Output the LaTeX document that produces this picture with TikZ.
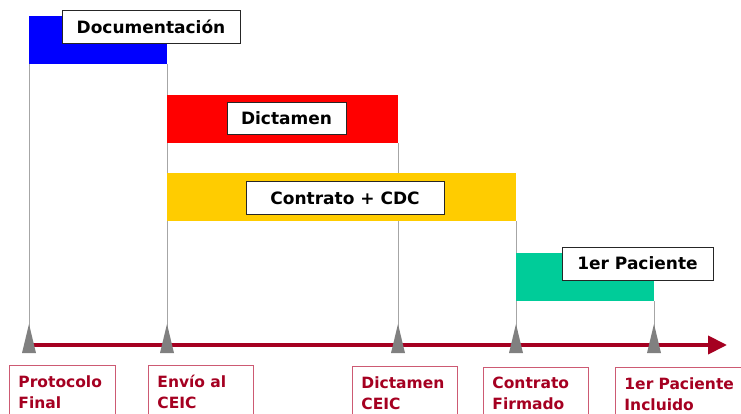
\documentclass[tikz,border=0pt]{standalone}
\usepackage{fontspec}
\setmainfont{DejaVu Sans}
\usetikzlibrary{arrows.meta}

\definecolor{barazul}{RGB}{0,0,255}
\definecolor{barrojo}{RGB}{255,0,0}
\definecolor{baramarillo}{RGB}{255,204,0}
\definecolor{barverde}{RGB}{0,204,153}
\definecolor{granate}{RGB}{165,0,33}
\definecolor{granateclaro}{RGB}{205,90,115}
\definecolor{hitogris}{RGB}{128,128,128}

\tikzset{
  barra/.style={draw=none, inner sep=0pt, outer sep=0pt, anchor=north west},
  etiqueta/.style={draw=black!85, fill=white, line width=0.9pt, inner sep=0pt,
    minimum height=33pt, font=\fontsize{17}{20}\selectfont\bfseries},
  guia/.style={draw=black!35, line width=0.9pt},
  eje/.style={draw=granate, line width=4pt, -{Triangle[length=19pt, width=18pt]}},
  hitolabel/.style={draw=granateclaro, line width=0.9pt, anchor=north west,
    align=left, inner xsep=9pt, inner ysep=10pt,
    text=granate, font=\fontsize{15.5}{21}\selectfont\bfseries}
}

\begin{document}
\begin{tikzpicture}[x=1pt, y=-1pt]
    \useasboundingbox (0,0) rectangle (741,414);

    % --- Hitos sobre el eje ---
    \coordinate (m1) at (29,345);
    \coordinate (m2) at (167,345);
    \coordinate (m3) at (398,345);
    \coordinate (m4) at (516,345);
    \coordinate (m5) at (654,345);
    \coordinate (fin) at (727,345);

    % --- Barras (solo para anclar las guias) ---
    \path (29,16) node[barra, minimum width=138pt, minimum height=48pt] (docbar) {};
    \path (167,95) node[barra, minimum width=231pt, minimum height=48pt] (dicbar) {};
    \path (167,173) node[barra, minimum width=349pt, minimum height=48pt] (conbar) {};
    \path (516,253) node[barra, minimum width=138pt, minimum height=48pt] (pacbar) {};

    % --- Guias verticales ---
    \draw[guia] (docbar.south west) -- (m1);
    \draw[guia] (docbar.south east) -- (m2);
    \draw[guia] (dicbar.south east) -- (m3);
    \draw[guia] (conbar.south east) -- (m4);
    \draw[guia] (pacbar.south east) -- (m5);

    % --- Relleno de las barras ---
    \fill[barazul] (docbar.north west) rectangle (docbar.south east);
    \fill[barrojo] (dicbar.north west) rectangle (dicbar.south east);
    \fill[baramarillo] (conbar.north west) rectangle (conbar.south east);
    \fill[barverde] (pacbar.north west) rectangle (pacbar.south east);

    % --- Rotulos de las barras ---
    \node[etiqueta, minimum width=178pt] (ldoc) at (151,26.5) {Documentación};
    \node[etiqueta, minimum width=119pt, minimum height=32pt] (ldic) at (286.5,118) {Dictamen};
    \node[etiqueta, minimum width=198pt] (lcon) at (345,198) {Contrato + CDC};
    \node[etiqueta, minimum width=151pt] (lpac) at (637.5,263.5) {1er Paciente};

    % --- Eje temporal ---
    \draw[eje] (m1) -- (fin);
    \foreach \m in {m1,m2,m3,m4,m5}
        \fill[hitogris] (\m) ++(0,-21) -- ++(7,29) -- ++(-14,0) -- cycle;

    % --- Rotulos de los hitos ---
    \node[hitolabel, text width=88pt] (tprot) at (9,365) {Protocolo\\Final};
    \node[hitolabel, text width=87pt] (tenv) at (148,365) {Envío al\\CEIC};
    \node[hitolabel, text width=87pt] (tdic) at (352,366) {Dictamen\\CEIC};
    \node[hitolabel, text width=87pt] (tcon) at (483,367) {Contrato\\Firmado};
    \node[hitolabel, text width=120pt] (tpac) at (615,367) {1er Paciente\\Incluido};
\end{tikzpicture}
\end{document}
